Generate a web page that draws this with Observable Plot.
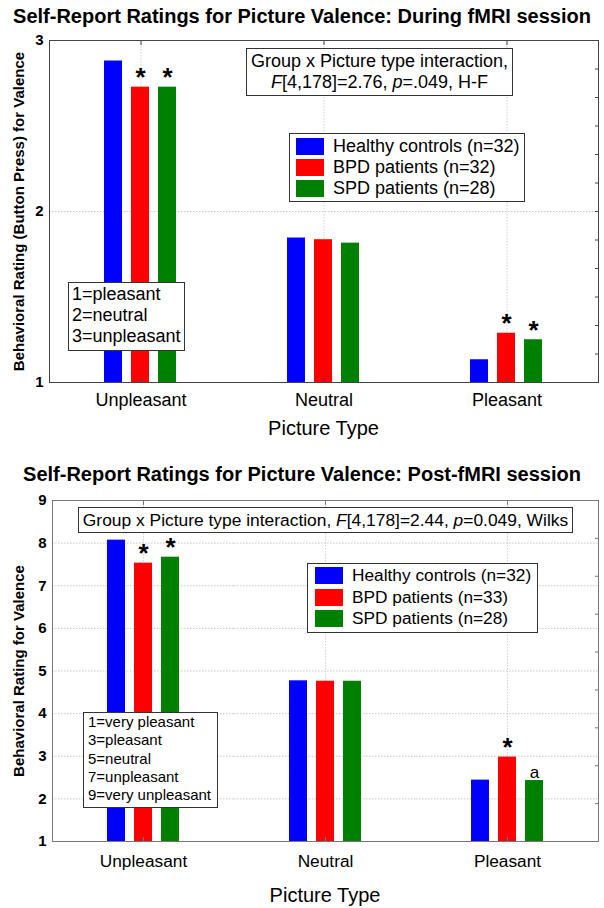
<!DOCTYPE html>
<html><head><meta charset="utf-8">
<script src="https://cdn.jsdelivr.net/npm/d3@7"></script>
<script src="https://cdn.jsdelivr.net/npm/@observablehq/plot@0.6"></script>
<style>
body{margin:0;background:#fff;font-family:"Liberation Sans",Arial,sans-serif;color:#000}
#root{position:relative;width:604px;height:908px;overflow:hidden;background:#fff}
.title{position:absolute;left:0;width:604px;text-align:center;font-weight:bold;font-size:20px;line-height:20px;white-space:nowrap}
.xlab{position:absolute;text-align:center;font-size:20px;line-height:20px;white-space:nowrap}
.box{position:absolute;box-sizing:border-box;border:1px solid #333;background:#fff;white-space:nowrap}
.row{display:flex;align-items:center}
.sw{display:inline-block;width:28px;height:17px;margin-right:9px;flex:none}
svg{position:absolute;left:0}
</style></head><body><div id="root"></div>
<script>
// ---------- data ----------
const pictureTypes = ["Unpleasant", "Neutral", "Pleasant"];
const groups = ["Healthy controls", "BPD patients", "SPD patients"];
const groupColors = ["#0000ff", "#ff0000", "#008000"];

// Chart 1: During fMRI session
const duringTitle = "Self-Report Ratings for Picture Valence: During fMRI session";
const duringYLabel = "Behavioral Rating (Button Press) for Valence";
const duringLegend = ["Healthy controls (n=32)", "BPD patients (n=32)", "SPD patients (n=28)"];
const duringHC  = [2.88, 1.845, 1.133];
const duringBPD = [2.727, 1.835, 1.288];
const duringSPD = [2.727, 1.815, 1.25];
const duringSigHC  = ["", "", ""];
const duringSigBPD = ["*", "", "*"];
const duringSigSPD = ["*", "", "*"];
const duringYTicks = [1, 2, 3];
const duringYDomain = [1, 3];
const duringStats = ["Group x Picture type interaction,", "<i>F</i>[4,178]=2.76, <i>p</i>=.049, H-F"];
const duringScale = ["1=pleasant", "2=neutral", "3=unpleasant"];

// Chart 2: Post-fMRI session
const postTitle = "Self-Report Ratings for Picture Valence: Post-fMRI session";
const postYLabel = "Behavioral Rating for Valence";
const postLegend = ["Healthy controls (n=32)", "BPD patients (n=33)", "SPD patients (n=28)"];
const postHC  = [8.07, 4.77, 2.44];
const postBPD = [7.53, 4.76, 2.98];
const postSPD = [7.67, 4.76, 2.43];
const postSigHC  = ["", "", ""];
const postSigBPD = ["*", "", "*"];
const postSigSPD = ["*", "", "a"];
const postYTicks = [1, 2, 3, 4, 5, 6, 7, 8, 9];
const postYDomain = [1, 9];
const postStats = ["Group x Picture type interaction, <i>F</i>[4,178]=2.44, <i>p</i>=0.049, Wilks"];
const postScale = ["1=very pleasant", "3=pleasant", "5=neutral", "7=unpleasant", "9=very unpleasant"];

const xTitle = "Picture Type";

// ---------- helpers ----------
function buildRows(vals, sigs) {
  return pictureTypes.flatMap((t, i) => groups.map((g, j) => ({type: t, group: g, value: vals[j][i], sig: sigs[j][i]})));
}
function minorTicks(domain, n) {
  const [a, b] = domain;
  return d3.range(1, n).map(k => a + (b - a) * k / n);
}

const FONT = "Liberation Sans, Arial, sans-serif";

function chart({rows, yDomain, yTicks, yLabel, height, mt, mb, ml, mr, frameColor, tickFont, xPad, yLabelOffset, minorN, yGrid}) {
  return Plot.plot({
    width: 604, height,
    marginTop: mt, marginBottom: mb, marginLeft: ml, marginRight: mr,
    style: {fontFamily: FONT, fontSize: "15px", color: "#000", background: "transparent"},
    fx: {domain: pictureTypes, padding: 0, label: null},
    x: {domain: groups, paddingInner: 0.33, paddingOuter: 2.0, axis: null},
    y: {domain: yDomain},
    color: {domain: groups, range: groupColors},
    marks: [
      Plot.gridY(yGrid, {stroke: "#c8c8c8", strokeOpacity: 1, strokeDasharray: "1.5,1.5"}),
      Plot.gridFx({stroke: "#d0d0d0", strokeOpacity: 1, strokeDasharray: "1.5,1.5"}),
      Plot.barY(rows, {fx: "type", x: "group", y: "value", fill: "group", clip: true}),
      Plot.text(rows.filter(d => d.sig === "*"), {fx: "type", x: "group", y: "value", text: "sig", lineAnchor: "bottom", dy: -1, fontSize: 26, fontWeight: "bold", fill: "#000"}),
      Plot.text(rows.filter(d => d.sig && d.sig !== "*"), {fx: "type", x: "group", y: "value", text: "sig", lineAnchor: "bottom", dy: -3, fontSize: 17, fill: "#000"}),
      Plot.axisY({anchor: "left", ticks: yTicks, tickFormat: d3.format("d"), tickSize: 0, tickPadding: 6, fontWeight: "bold", fontSize: 15,
        label: yLabel, labelAnchor: "center", labelOffset: yLabelOffset, labelArrow: "none"}),
      Plot.axisY({anchor: "right", ticks: minorTicks(yDomain, minorN), tickSize: -4, fill: "none", stroke: frameColor, label: null}),
      Plot.axisFx({anchor: "bottom", tickSize: 0, tickPadding: xPad, fontSize: tickFont, label: null}),
      Plot.axisFx({anchor: "bottom", tickSize: -4, fill: "none", stroke: frameColor, label: null}),
      Plot.axisFx({anchor: "top", tickSize: -4, fill: "none", stroke: frameColor, label: null}),
      Plot.frame({facet: "super", stroke: frameColor})
    ]
  });
}

function box(root, {left, top, width, height, pad, lineHeight, fontSize, align, lines}) {
  const d = document.createElement("div");
  d.className = "box";
  Object.assign(d.style, {left: left + "px", top: top + "px", width: width + "px", height: height + "px",
    padding: pad, lineHeight: lineHeight + "px", fontSize: fontSize + "px", textAlign: align});
  d.innerHTML = lines.map(l => `<div>${l}</div>`).join("");
  root.appendChild(d);
}
function legend(root, {left, top, width, height, pad, rowH, fontSize, labels}) {
  const d = document.createElement("div");
  d.className = "box";
  Object.assign(d.style, {left: left + "px", top: top + "px", width: width + "px", height: height + "px",
    padding: pad, fontSize: fontSize + "px"});
  d.innerHTML = labels.map((l, i) => `<div class="row" style="height:${rowH}px"><span class="sw" style="background:${groupColors[i]}"></span><span>${l}</span></div>`).join("");
  root.appendChild(d);
}
function text(root, cls, str, style) {
  const d = document.createElement("div");
  d.className = cls;
  d.textContent = str;
  Object.assign(d.style, style);
  root.appendChild(d);
}

// ---------- render ----------
const root = document.getElementById("root");

// Chart 1
text(root, "title", duringTitle, {top: "6px"});
const c1 = chart({
  rows: buildRows([duringHC, duringBPD, duringSPD], [duringSigHC, duringSigBPD, duringSigSPD]),
  yDomain: duringYDomain, yTicks: duringYTicks, yLabel: duringYLabel,
  height: 420, mt: 10, mb: 68, ml: 49, mr: 6, frameColor: "#444", tickFont: 18, xPad: 11,
  yLabelOffset: 36, minorN: 12, yGrid: [2]
});
c1.style.top = "30px";
root.appendChild(c1);
text(root, "xlab", xTitle, {top: "418px", left: "49px", width: "549px"});
box(root, {left: 246, top: 48, width: 267, height: 48, pad: "2px 0 0 0", lineHeight: 21, fontSize: 18, align: "center", lines: duringStats});
legend(root, {left: 289, top: 133, width: 236, height: 69, pad: "2px 0 0 6px", rowH: 21, fontSize: 18, labels: duringLegend});
box(root, {left: 68, top: 282, width: 117, height: 69, pad: "1px 0 0 3px", lineHeight: 21, fontSize: 18, align: "left", lines: duringScale});

// Chart 2
text(root, "title", postTitle, {top: "464px"});
const c2 = chart({
  rows: buildRows([postHC, postBPD, postSPD], [postSigHC, postSigBPD, postSigSPD]),
  yDomain: postYDomain, yTicks: postYTicks, yLabel: postYLabel,
  height: 418, mt: 10, mb: 67, ml: 52, mr: 6, frameColor: "#777", tickFont: 17.3, xPad: 13,
  yLabelOffset: 39, minorN: 9, yGrid: [2, 3, 4, 5, 6, 7, 8]
});
c2.style.top = "490px";
root.appendChild(c2);
text(root, "xlab", xTitle, {top: "885px", left: "52px", width: "546px"});
box(root, {left: 78, top: 507, width: 495, height: 26, pad: "0", lineHeight: 24, fontSize: 17.4, align: "center", lines: postStats});
legend(root, {left: 307, top: 563, width: 231, height: 70, pad: "1px 0 0 7px", rowH: 21.5, fontSize: 17.3, labels: postLegend});
box(root, {left: 83, top: 712, width: 135, height: 96, pad: "0 0 0 4px", lineHeight: 18.25, fontSize: 15, align: "left", lines: postScale});
</script>
</body></html>
